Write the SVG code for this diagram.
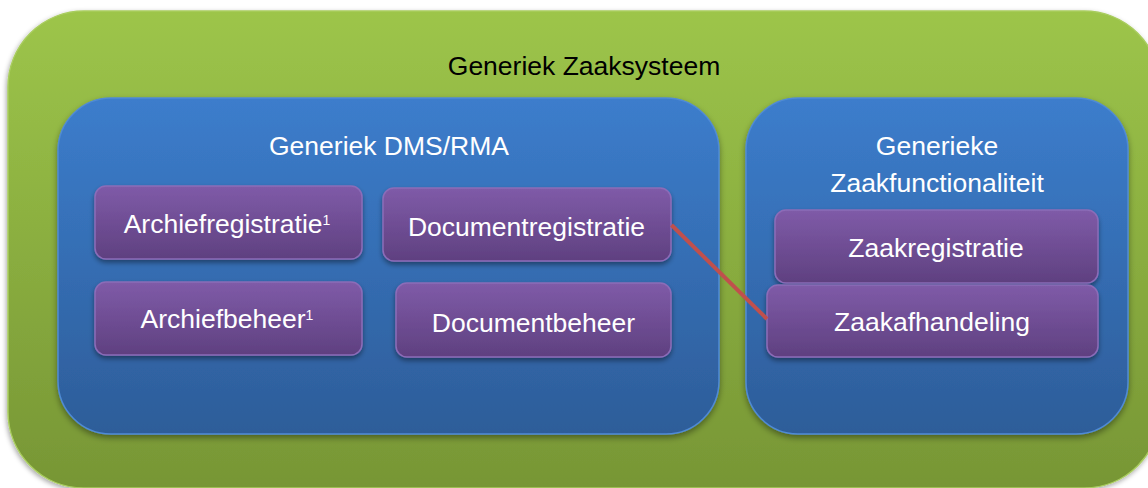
<svg xmlns="http://www.w3.org/2000/svg" width="1148" height="488" viewBox="0 0 1148 488">
  <style>
    .t { font-family: "Liberation Sans", Arial, sans-serif; font-size: 26.5px; text-anchor: middle; fill: #ffffff; }
    .title { fill: #000000; }
    .sup { font-size: 14px; }
    .green { fill: url(#gGreen); stroke: #a9cd5e; stroke-width: 1.5; filter: url(#shOuter); }
    .blue { fill: url(#gBlue); stroke: #4f8ad6; stroke-width: 1.5; filter: url(#shBlue); }
    .purple { fill: url(#gPurple); stroke: #8c6cb8; stroke-width: 1.5; filter: url(#shPurple); }
    .conn { stroke: #c0504d; stroke-width: 4; fill: none; }
  </style>
  <defs>
    <linearGradient id="gGreen" x1="0" y1="0" x2="0" y2="1">
      <stop offset="0" stop-color="#9dc54a"/>
      <stop offset="1" stop-color="#779635"/>
    </linearGradient>
    <linearGradient id="gBlue" x1="0" y1="0" x2="0" y2="1">
      <stop offset="0" stop-color="#3c7dcc"/>
      <stop offset="1" stop-color="#2d5d99"/>
    </linearGradient>
    <linearGradient id="gPurple" x1="0" y1="0" x2="0" y2="1">
      <stop offset="0" stop-color="#7f5ba8"/>
      <stop offset="1" stop-color="#5f4080"/>
    </linearGradient>
    <filter id="shOuter" x="-5%" y="-5%" width="110%" height="115%">
      <feDropShadow dx="-1" dy="2" stdDeviation="2.5" flood-color="#000" flood-opacity="0.35"/>
    </filter>
    <filter id="shBlue" x="-5%" y="-5%" width="110%" height="115%">
      <feDropShadow dx="0" dy="3" stdDeviation="3" flood-color="#000" flood-opacity="0.4"/>
    </filter>
    <filter id="shPurple" x="-5%" y="-10%" width="110%" height="130%">
      <feDropShadow dx="0" dy="3" stdDeviation="2.5" flood-color="#000" flood-opacity="0.4"/>
    </filter>
  </defs>

  <g id="zaaksysteem">
    <rect class="green" x="8" y="11" width="1152" height="477" rx="76" ry="76"/>
    <text class="t title" x="584" y="75">Generiek Zaaksysteem</text>
  </g>

  <g id="dms-rma">
    <rect class="blue" x="58" y="98" width="661" height="336" rx="53" ry="53"/>
    <text class="t" x="389" y="155">Generiek DMS/RMA</text>
  </g>

  <g id="zaakfunctionaliteit">
    <rect class="blue" x="746" y="98" width="382" height="336" rx="52" ry="52"/>
    <text class="t" x="937" y="155">Generieke</text>
    <text class="t" x="937" y="192">Zaakfunctionaliteit</text>
  </g>

  <g id="archiefregistratie">
    <rect class="purple" x="95" y="186" width="267" height="73" rx="11" ry="11"/>
    <text class="t" x="227" y="233">Archiefregistratie<tspan class="sup" dy="-8">1</tspan></text>
  </g>

  <g id="archiefbeheer">
    <rect class="purple" x="95" y="282" width="267" height="73" rx="11" ry="11"/>
    <text class="t" x="227" y="328">Archiefbeheer<tspan class="sup" dy="-8">1</tspan></text>
  </g>

  <g id="documentregistratie">
    <rect class="purple" x="383" y="188" width="288" height="73" rx="11" ry="11"/>
    <text class="t" x="526.5" y="236">Documentregistratie</text>
  </g>

  <g id="documentbeheer">
    <rect class="purple" x="396" y="283" width="275" height="74" rx="11" ry="11"/>
    <text class="t" x="533.5" y="331.5">Documentbeheer</text>
  </g>

  <g id="zaakregistratie">
    <rect class="purple" x="775" y="210" width="323" height="73" rx="11" ry="11"/>
    <text class="t" x="936" y="256.5">Zaakregistratie</text>
  </g>

  <g id="zaakafhandeling">
    <rect class="purple" x="767" y="285" width="331" height="72" rx="11" ry="11"/>
    <text class="t" x="932" y="330.5">Zaakafhandeling</text>
  </g>

  <g id="connectors">
    <line class="conn" x1="671.5" y1="225" x2="767" y2="319"/>
  </g>
</svg>
